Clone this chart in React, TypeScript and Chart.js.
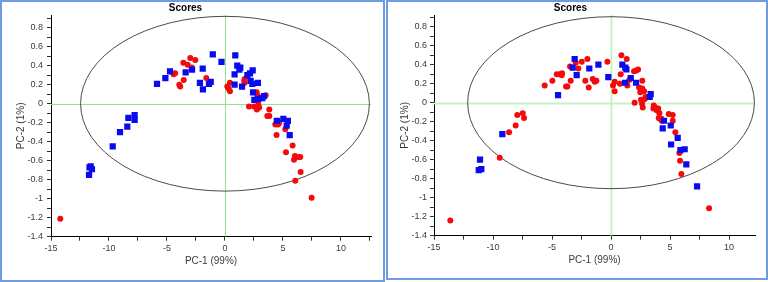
import React, { useEffect, useRef } from 'react';
import { Chart, registerables } from 'chart.js';
Chart.register(...registerables);

// ---------- DATA ----------
const leftBlue: [number, number][] = [
  [-5.86, 0.21], [-5.14, 0.27], [-4.74, 0.34], [-3.39, 0.33], [-2.84, 0.36], [-1.92, 0.37],
  [-2.16, 0.22], [-1.9, 0.15], [-1.38, 0.21], [-1.23, 0.23], [-1.05, 0.52], [-0.3, 0.44],
  [0.89, 0.51], [0.83, 0.31], [0.83, 0.2], [1.06, 0.4], [1.24, 0.36], [1.32, 0.38],
  [1.47, 0.18], [1.93, 0.3], [2.16, 0.32], [2.39, 0.35], [2.21, 0.24], [2.36, 0.21],
  [2.42, 0.12], [2.84, 0.22], [2.53, 0.04], [2.87, 0.05], [3.22, 0.06], [3.36, 0.08],
  [4.47, -0.18], [5.03, -0.16], [5.42, -0.18], [5.32, -0.23], [5.58, -0.33],
  [-7.79, -0.12], [-7.79, -0.17], [-8.33, -0.15], [-8.42, -0.24], [-9.05, -0.3],
  [-9.68, -0.45], [-11.58, -0.66], [-11.68, -0.67], [-11.47, -0.69], [-11.72, -0.75],
];
const leftRed: [number, number][] = [
  [-14.2, -1.21], [-4.43, 0.31], [-4.3, 0.32], [-3.59, 0.43], [-3.22, 0.41], [-2.99, 0.48],
  [-2.56, 0.46], [-2.87, 0.38], [-3.56, 0.25], [-3.94, 0.2], [-3.86, 0.18], [-1.61, 0.27],
  [0.2, 0.18], [0.3, 0.16], [0.43, 0.22], [0.43, 0.13], [1.7, 0.26], [1.7, 0.22], [1.66, 0.24],
  [2.73, 0.12], [2.79, 0.09], [3.51, 0.09], [2.07, -0.03], [2.5, -0.03], [2.87, -0.01],
  [2.75, -0.06], [2.95, -0.04], [2.87, 0.03], [3.82, -0.06], [3.65, -0.13], [3.82, -0.13],
  [4.34, -0.22], [4.57, -0.22], [4.68, -0.2], [4.45, -0.33], [5.2, -0.27], [5.83, -0.44],
  [5.26, -0.51], [6.03, -0.55], [6.32, -0.56], [6.49, -0.56], [5.95, -0.59], [6.52, -0.72],
  [6.06, -0.81], [7.47, -0.99],
];
const rightBlue: [number, number][] = [
  [-4.49, 0.08], [-3.08, 0.46], [-3.25, 0.37], [-2.91, 0.29], [-1.84, 0.36], [-1.07, 0.4],
  [-0.23, 0.27], [0.96, 0.4], [1.21, 0.37], [1.3, 0.35], [1.19, 0.21], [1.67, 0.26],
  [2.12, 0.21], [3.36, 0.09], [3.28, 0.06], [4.49, -0.19], [4.38, -0.27], [5.06, -0.24],
  [5.09, -0.44], [5.65, -0.37], [5.88, -0.5], [6.24, -0.49], [6.38, -0.65], [7.29, -0.88],
  [-9.21, -0.33], [-11.1, -0.6], [-11.21, -0.71], [-10.99, -0.7],
];
const rightRed: [number, number][] = [
  [-13.62, -1.24], [-9.43, -0.58], [-8.64, -0.31], [-8.08, -0.24], [-7.94, -0.13], [-7.48, -0.11],
  [-7.37, -0.16], [-5.62, 0.18], [-4.97, 0.23], [-4.6, 0.3], [-4.35, 0.3], [-4.18, 0.29],
  [-4.15, 0.31], [-3.81, 0.17], [-3.7, 0.17], [-3.42, 0.23], [-3.47, 0.38], [-2.99, 0.42],
  [-2.77, 0.36], [-2.48, 0.43], [-2.0, 0.46], [-2.18, 0.23], [-1.89, 0.16], [-1.55, 0.25],
  [-1.38, 0.22], [-1.24, 0.23], [-0.31, 0.43], [0.17, 0.18], [0.31, 0.12], [0.31, 0.22],
  [0.88, 0.5], [1.33, 0.46], [0.82, 0.3], [0.76, 0.2], [1.38, 0.18], [1.55, 0.24],
  [1.95, 0.33], [2.14, 0.34], [2.29, 0.35], [2.65, 0.23], [2.37, 0.16], [2.65, 0.15],
  [2.48, 0.11], [2.8, 0.12], [2.0, 0.0], [2.54, 0.03], [2.86, 0.04], [2.92, 0.06],
  [2.69, -0.05], [2.63, -0.01], [3.62, -0.03], [3.75, -0.05], [3.87, -0.08], [3.59, -0.06],
  [4.0, -0.06], [4.1, -0.11], [4.04, -0.16], [4.27, -0.17], [4.89, -0.12], [5.23, -0.13],
  [5.23, -0.19], [5.45, -0.31], [5.79, -0.53], [5.85, -0.61], [5.96, -0.75], [8.31, -1.11],
  [4.3, -0.19], [4.15, -0.17], [3.96, -0.08],
];

const xTickValues = [-15, -12.5, -10, -7.5, -5, -2.5, 0, 2.5, 5, 7.5, 10, 12.5];
const xTickLabels = ['-15', '', '-10', '', '-5', '', '0', '', '5', '', '10', ''];
const yTickValues = [-1.4, -1.3, -1.2, -1.1, -1, -0.9, -0.8, -0.7, -0.6, -0.5, -0.4, -0.3, -0.2, -0.1,
  0, 0.1, 0.2, 0.3, 0.4, 0.5, 0.6, 0.7, 0.8, 0.9];
const yTickLabels = ['-1.4', '', '-1.2', '', '-1', '', '-0.8', '', '-0.6', '', '-0.4', '', '-0.2', '',
  '0', '', '0.2', '', '0.4', '', '0.6', '', '0.8', ''];

const leftEllipse = { rx: 12.45, ry: 0.92 };
const rightEllipse = { rx: 12.15, ry: 0.905 };

// ---------- CHART ----------
const FONT = 'Liberation Sans, Arial, sans-serif';

const overlayPlugin = {
  id: 'overlay',
  beforeDatasetsDraw(chart: any, _args: any, opts: any) {
    const { ctx, chartArea, scales } = chart;
    const x = scales.x, y = scales.y;
    ctx.save();
    ctx.beginPath();
    ctx.rect(chartArea.left, chartArea.top, chartArea.right - chartArea.left, chartArea.bottom - chartArea.top);
    ctx.clip();
    const x0 = Math.round(x.getPixelForValue(0)) + 0.5;
    const y0 = Math.round(y.getPixelForValue(0)) + 0.5;
    ctx.strokeStyle = opts.crossColor;
    ctx.lineWidth = opts.crossWidth;
    ctx.beginPath();
    ctx.moveTo(x0, chartArea.top);
    ctx.lineTo(x0, chartArea.bottom);
    ctx.moveTo(chartArea.left, y0);
    ctx.lineTo(chartArea.right, y0);
    ctx.stroke();
    const cx = x.getPixelForValue(0), cy = y.getPixelForValue(0);
    const rx = Math.abs(x.getPixelForValue(opts.rx) - cx);
    const ry = Math.abs(y.getPixelForValue(opts.ry) - cy);
    ctx.beginPath();
    ctx.ellipse(cx, cy, rx, ry, 0, 0, Math.PI * 2);
    ctx.strokeStyle = '#4a4a4a';
    ctx.lineWidth = 1;
    ctx.stroke();
    ctx.restore();
  },
};

type PanelProps = {
  blue: [number, number][];
  red: [number, number][];
  ellipse: { rx: number; ry: number };
  width: number;
  height: number;
  xMax: number;
  yMax: number;
  yAxisWidth: number;
  xAxisHeight: number;
  padRight: number;
  yTitlePad: number;
  xTitlePad: number;
  yTickPad: number;
  crossColor: string;
  crossWidth: number;
};

function Panel(p: PanelProps) {
  const ref = useRef<HTMLCanvasElement>(null);
  useEffect(() => {
    if (!ref.current) return;
    const chart = new Chart(ref.current, {
      type: 'scatter',
      data: {
        datasets: [
          {
            data: p.blue.map(([x, y]) => ({ x, y })),
            pointStyle: 'rect',
            pointRadius: 4.4,
            backgroundColor: '#0a0af0',
            borderWidth: 0,
          },
          {
            data: p.red.map(([x, y]) => ({ x, y })),
            pointStyle: 'circle',
            pointRadius: 3,
            backgroundColor: '#f50a0a',
            borderWidth: 0,
          },
        ],
      },
      options: {
        responsive: false,
        animation: false,
        layout: { padding: { left: 0, right: p.padRight, top: 0, bottom: 0 } },
        plugins: {
          legend: { display: false },
          tooltip: { enabled: false },
          title: {
            display: true,
            text: 'Scores',
            color: '#000',
            font: { family: FONT, size: 10, weight: 'bold' },
            padding: { top: 2, bottom: 1 },
          },
          overlay: { rx: p.ellipse.rx, ry: p.ellipse.ry, crossColor: p.crossColor, crossWidth: p.crossWidth },
        } as any,
        scales: {
          x: {
            type: 'linear',
            min: -15,
            max: p.xMax,
            afterBuildTicks: (s: any) => { s.ticks = xTickValues.filter(v => v <= p.xMax).map(v => ({ value: v })); },
            afterFit: (s: any) => { s.height = p.xAxisHeight; },
            ticks: {
              autoSkip: false,
              maxRotation: 0,
              padding: 2,
              color: '#3a3a3a',
              font: { family: FONT, size: 9 },
              callback: (_v: any, i: number) => xTickLabels[i],
            },
            grid: { drawOnChartArea: false, drawTicks: true, tickLength: 4, tickColor: '#333' },
            border: { display: true, color: '#000', width: 1 },
            title: {
              display: true,
              text: 'PC-1 (99%)',
              color: '#3a3a3a',
              font: { family: FONT, size: 10 },
              padding: { top: 0, bottom: p.xTitlePad },
            },
          },
          y: {
            type: 'linear',
            min: -1.4,
            max: p.yMax,
            afterBuildTicks: (s: any) => { s.ticks = yTickValues.map(v => ({ value: v })); },
            afterFit: (s: any) => { s.width = p.yAxisWidth; },
            ticks: {
              autoSkip: false,
              padding: p.yTickPad,
              color: '#3a3a3a',
              font: { family: FONT, size: 9 },
              callback: (_v: any, i: number) => yTickLabels[i],
            },
            grid: { drawOnChartArea: false, drawTicks: true, tickLength: 4, tickColor: '#333' },
            border: { display: true, color: '#000', width: 1 },
            title: {
              display: true,
              text: 'PC-2 (1%)',
              color: '#3a3a3a',
              font: { family: FONT, size: 10 },
              padding: { top: p.yTitlePad, bottom: 0 },
            },
          },
        },
      },
      plugins: [overlayPlugin],
    } as any);
    return () => chart.destroy();
  }, []);
  return <canvas ref={ref} width={p.width} height={p.height} style={{ display: 'block', width: p.width, height: p.height }} />;
}

export default function App() {
  const border = '2px solid #6d9ce2';
  return (
    <div style={{ position: 'fixed', left: 0, top: 0, width: 768, height: 282, background: '#fff', overflow: 'hidden' }}>
      <div style={{ position: 'absolute', left: 0, top: 0 }}>
        <Panel blue={leftBlue} red={leftRed} ellipse={leftEllipse} width={384} height={282}
          xMax={12.59} yMax={0.934} yAxisWidth={51} xAxisHeight={45.3} padRight={13}
          yTitlePad={15} xTitlePad={15} yTickPad={4} crossColor="#8de68d" crossWidth={1} />
      </div>
      <div style={{ position: 'absolute', left: 386, top: 0 }}>
        <Panel blue={rightBlue} red={rightRed} ellipse={rightEllipse} width={382} height={280}
          xMax={12.2} yMax={0.923} yAxisWidth={48} xAxisHeight={44.3} padRight={13}
          yTitlePad={13} xTitlePad={14} yTickPad={3} crossColor="#c4f2c4" crossWidth={2} />
      </div>
      <div style={{ position: 'absolute', left: 0, top: 0, width: 385, height: 282, border, boxSizing: 'border-box', pointerEvents: 'none' }} />
      <div style={{ position: 'absolute', left: 386, top: 0, width: 382, height: 280, border, boxSizing: 'border-box', pointerEvents: 'none' }} />
    </div>
  );
}
